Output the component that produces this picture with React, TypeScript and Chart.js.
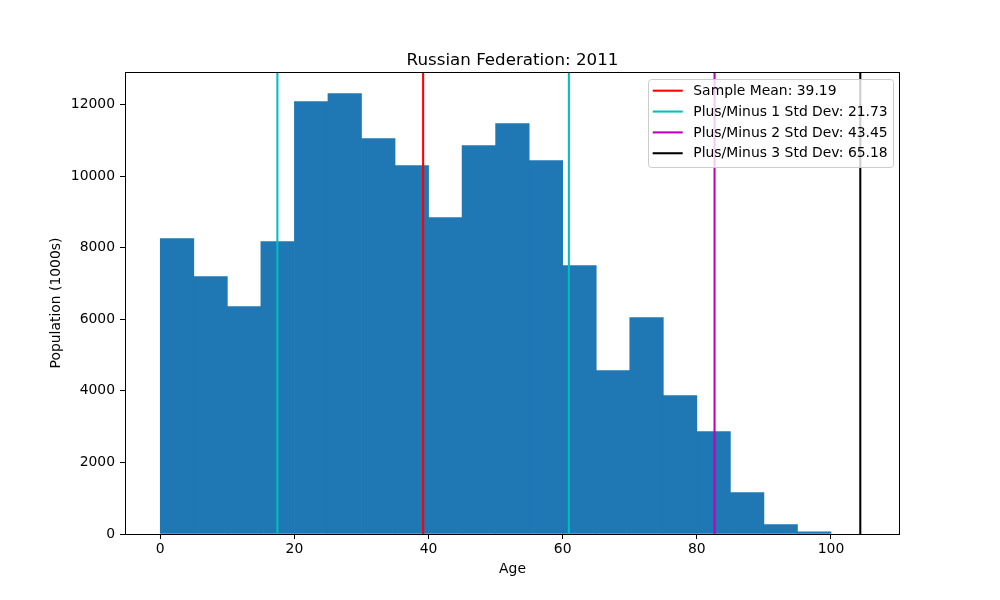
import React, { useEffect, useRef } from "react";
import { Chart, registerables } from "chart.js";

Chart.register(...registerables);

const chartTitle = "Russian Federation: 2011";
const xAxisTitle = "Age";
const yAxisTitle = "Population (1000s)";
const binStarts = [0, 5, 10, 15, 20, 25, 30, 35, 40, 45, 50, 55, 60, 65, 70, 75, 80, 85, 90, 95];
const binWidth = 5;
const population = [8253, 7191, 6353, 8169, 12082, 12306, 11048, 10294, 8840, 10853, 11467, 10433, 7499, 4564, 6045, 3865, 2859, 1154, 260, 64];
const sampleMean = 39.19;
const stdDevs = [21.73, 43.45, 65.18];
const xTicks = [0, 20, 40, 60, 80, 100];
const yTicks = [0, 2000, 4000, 6000, 8000, 10000, 12000];

const X_MIN = -5.26;
const X_MAX = 110.29;
const Y_MAX = 12910;
const FONT = "'DejaVu Sans', sans-serif";
const BAR_COLOR = "#1f77b4";
const LINE_COLORS = ["#ff0000", "#00bfbf", "#bf00bf", "#000000"];
const LW = 2.08;

const framePlugin = {
  id: "frame",
  afterDatasetsDraw(chart: any) {
    const { ctx, chartArea: a } = chart;
    ctx.save();
    ctx.strokeStyle = "#000";
    ctx.lineWidth = 1;
    ctx.strokeRect(Math.round(a.left) + 0.5, Math.round(a.top) + 0.5, Math.round(a.right - a.left) - 1, Math.round(a.bottom - a.top));
    ctx.restore();
  },
};

const titlePlugin = {
  id: "mplTitle",
  afterDraw(chart: any) {
    const { ctx } = chart;
    ctx.save();
    ctx.fillStyle = "#000";
    ctx.font = `16.7px ${FONT}`;
    ctx.textAlign = "center";
    ctx.textBaseline = "alphabetic";
    ctx.fillText(chartTitle, 512.5, 65);
    ctx.restore();
  },
};

const legendPlugin = {
  id: "mplLegend",
  afterDraw(chart: any) {
    const { ctx } = chart;
    const items = chart.data.datasets.filter((d: any) => d.legendLabel);
    const x0 = 648.5, y0 = 79.5, w = 245, h = 88, r = 3;
    ctx.save();
    ctx.beginPath();
    ctx.moveTo(x0 + r, y0);
    ctx.lineTo(x0 + w - r, y0);
    ctx.quadraticCurveTo(x0 + w, y0, x0 + w, y0 + r);
    ctx.lineTo(x0 + w, y0 + h - r);
    ctx.quadraticCurveTo(x0 + w, y0 + h, x0 + w - r, y0 + h);
    ctx.lineTo(x0 + r, y0 + h);
    ctx.quadraticCurveTo(x0, y0 + h, x0, y0 + h - r);
    ctx.lineTo(x0, y0 + r);
    ctx.quadraticCurveTo(x0, y0, x0 + r, y0);
    ctx.closePath();
    ctx.fillStyle = "rgba(255,255,255,0.8)";
    ctx.fill();
    ctx.strokeStyle = "#cccccc";
    ctx.lineWidth = 1;
    ctx.stroke();
    ctx.font = `13.9px ${FONT}`;
    ctx.textBaseline = "middle";
    ctx.textAlign = "left";
    items.forEach((d: any, i: number) => {
      const cy = 90.7 + i * 20.85;
      ctx.strokeStyle = d.borderColor;
      ctx.lineWidth = LW;
      ctx.beginPath();
      ctx.moveTo(652.7, cy);
      ctx.lineTo(682.7, cy);
      ctx.stroke();
      ctx.fillStyle = "#000";
      ctx.fillText(d.legendLabel, 693.3, cy + 0.5);
    });
    ctx.restore();
  },
};

export default function App() {
  const ref = useRef<HTMLCanvasElement | null>(null);

  useEffect(() => {
    if (!ref.current) return;

    const vlines: { x: number; label: string | null; color: string }[] = [];
    vlines.push({ x: sampleMean, label: `Sample Mean: ${sampleMean.toFixed(2)}`, color: LINE_COLORS[0] });
    stdDevs.forEach((s, i) => {
      const lo = sampleMean - s;
      const hi = sampleMean + s;
      const color = LINE_COLORS[i + 1];
      const label = `Plus/Minus ${i + 1} Std Dev: ${s.toFixed(2)}`;
      if (lo >= 0) vlines.push({ x: lo, label: null, color });
      vlines.push({ x: hi, label, color });
    });

    const lineDatasets = vlines.map((v) => ({
      type: "line" as const,
      label: v.label || "",
      legendLabel: v.label,
      data: [
        { x: v.x, y: 0 },
        { x: v.x, y: Y_MAX },
      ],
      borderColor: v.color,
      backgroundColor: v.color,
      borderWidth: LW,
      pointRadius: 0,
      fill: false,
      tension: 0,
      order: 0,
    }));
    lineDatasets.sort((a: any, b: any) => (a.legendLabel ? 0 : 1) - (b.legendLabel ? 0 : 1));

    const barData = binStarts.map((s, i) => ({ x: s + binWidth / 2, y: population[i] }));

    const tickGrid = {
      display: true,
      offset: false,
      drawOnChartArea: false,
      drawTicks: true,
      tickLength: 5,
      tickColor: "#000",
      tickWidth: 1,
    };

    const chart = new Chart(ref.current, {
      type: "bar",
      data: {
        datasets: [
          ...lineDatasets,
          {
            type: "bar" as const,
            label: "Population",
            data: barData,
            backgroundColor: BAR_COLOR,
            borderWidth: 0,
            barPercentage: 1,
            categoryPercentage: 1,
            order: 1,
          },
        ] as any,
      },
      options: {
        animation: false,
        responsive: false,
        maintainAspectRatio: false,
        layout: { padding: { top: 72, right: 100, bottom: 0, left: 0 } },
        plugins: {
          legend: { display: false },
          tooltip: { enabled: false },
          title: { display: false },
        },
        scales: {
          x: {
            type: "linear",
            min: X_MIN,
            max: X_MAX,
            offset: false,
            afterBuildTicks: (s: any) => {
              s.ticks = xTicks.map((v) => ({ value: v }));
            },
            afterFit: (s: any) => {
              s.height = 66;
            },
            grid: tickGrid,
            border: { display: false },
            ticks: {
              color: "#000",
              font: { family: FONT, size: 13.9 },
              padding: 2,
              maxRotation: 0,
              autoSkip: false,
              callback: (v: any) => String(v),
            },
            title: {
              display: true,
              text: xAxisTitle,
              color: "#000",
              font: { family: FONT, size: 13.9 },
              padding: { top: 0, bottom: 22.5 },
            },
          },
          y: {
            type: "linear",
            min: 0,
            max: Y_MAX,
            afterBuildTicks: (s: any) => {
              s.ticks = yTicks.map((v) => ({ value: v }));
            },
            afterFit: (s: any) => {
              s.width = 125;
            },
            grid: tickGrid,
            border: { display: false },
            ticks: {
              color: "#000",
              font: { family: FONT, size: 13.9 },
              padding: 5,
              autoSkip: false,
              callback: (v: any) => String(v),
            },
            title: {
              display: true,
              text: yAxisTitle,
              color: "#000",
              font: { family: FONT, size: 13.9 },
              padding: { top: 48.5, bottom: 0 },
            },
          },
        },
      } as any,
      plugins: [framePlugin, titlePlugin, legendPlugin],
    });

    return () => chart.destroy();
  }, []);

  return (
    <div style={{ position: "fixed", left: 0, top: 0, width: 1000, height: 600, background: "#fff" }}>
      <canvas ref={ref} width={1000} height={600} style={{ width: 1000, height: 600, display: "block" }} />
    </div>
  );
}
